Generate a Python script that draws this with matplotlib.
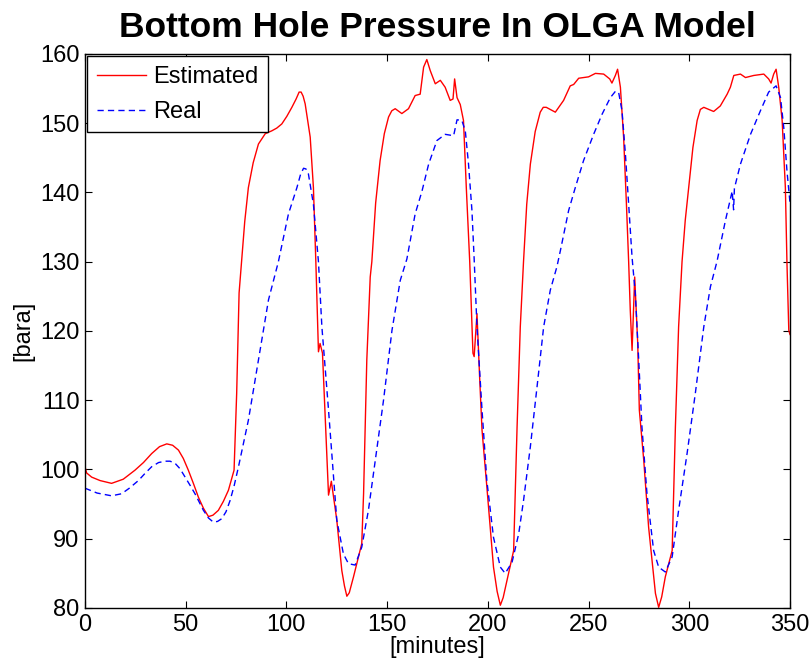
import matplotlib
matplotlib.use("Agg")
import matplotlib.pyplot as plt

# Estimated bottom hole pressure (red)
est_t = [0, 0.8, 3.3, 7.5, 13.2, 19, 24.8, 29, 33.1, 37, 40.6, 43.5, 46.4, 48.8, 51.3, 53.8, 56.3,
         58.8, 61.3, 63.5, 66.2, 68.7, 71.2, 74.0, 75.3, 76.5, 77.8, 79.3, 81.1, 83.5, 86.1, 89.5,
         92.7, 95.2, 97.7, 100.2, 102.7, 104.8, 106.3, 107.3, 108.3, 109.3, 111.8, 113.4, 114.6,
         115.9, 116.7, 117.9, 120.9, 122.3, 125.0, 127.5, 128.8, 130.0, 131.2, 133.3, 137.4, 138.3,
         139.9, 141.6, 142.4, 144.3, 146.5, 148.6, 150.7, 152.3, 154.0, 157.3, 160.6, 163.9,
         166.4, 168.1, 169.7, 171.4, 173.9, 176.4, 178.8, 181.3, 182.7, 183.5, 184.7, 186.3,
         187.9, 189.3, 191.0, 192.6, 193.2, 194.6, 195.9, 197.1, 199.5, 202.8, 204.6, 206.2,
         207.6, 209.5, 212.8, 214.5, 216.1, 217.7, 219.3, 221.1, 223.5, 226.0, 227.5, 229.0,
         233.5, 237.6, 240.9, 242.6, 245.1, 250.0, 253.4, 257.5, 260.5, 261.6, 263.3, 264.4,
         265.8, 267.4, 268.8, 269.9, 270.7, 271.6, 272.9, 274.4, 275.2, 277.4, 279.8, 283.2,
         284.8, 286.3, 288.1, 291.5, 293.1, 294.7, 296.4, 298.0, 299.7, 301.8, 303.9, 305.5,
         307.2, 312.1, 315.4, 318.8, 320.4, 322.1, 325.4, 327.9, 332.0, 337.0, 339.4, 340.6,
         341.9, 343.1, 344.4, 346.1, 347.7, 348.5, 349.4, 350.0]
est_p = [100.4, 99.5, 98.9, 98.4, 98.0, 98.6, 99.9, 101.0, 102.3, 103.3, 103.7, 103.5, 102.8, 101.6,
         99.9, 98.0, 96.0, 94.4, 93.2, 93.4, 94.1, 95.4, 97.0, 99.9, 111.0, 125.5, 130.2, 135.8,
         140.7, 144.3, 147.0, 148.5, 148.9, 149.3, 149.9, 151.0, 152.3, 153.5, 154.5, 154.5, 153.9,
         152.8, 148.0, 140.7, 130.0, 117.0, 118.2, 116.8, 96.3, 98.3, 92.7, 85.4, 83.2, 81.7, 82.2,
         84.5, 89.3, 96.5, 115.8, 127.8, 130.0, 138.5, 144.6, 148.5, 150.9, 151.8, 152.1, 151.4,
         152.1, 154.0, 154.2, 158.1, 159.2, 157.6, 155.7, 156.2, 155.2, 153.3, 153.5, 156.4,
         153.7, 152.7, 150.4, 140.7, 130.0, 116.8, 116.3, 122.5, 113.4, 105.7, 97.5, 85.9,
         82.4, 80.4, 81.5, 84.0, 88.3, 106.1, 120.6, 130.0, 138.3, 144.1, 148.8, 151.6, 152.3,
         152.3, 151.6, 153.3, 155.4, 155.6, 156.5, 156.7, 157.2, 157.1, 156.4, 155.8, 156.9,
         157.8, 155.2, 148.0, 138.3, 130.0, 123.0, 117.2, 127.8, 118.2, 108.6, 101.3, 91.7,
         82.1, 80.1, 81.6, 84.5, 88.3, 106.1, 120.6, 130.0, 136.0, 140.7, 146.5, 150.4, 152.0,
         152.3, 151.7, 152.5, 154.2, 155.2, 156.9, 157.1, 156.6, 156.9, 157.1, 156.4, 155.8,
         157.1, 157.8, 155.2, 150.4, 140.7, 129.7, 120.1, 119.5]

# Real bottom hole pressure (blue, dashed)
real_t = [0, 6, 13.2, 18.2, 22, 26.5, 30, 33.1, 36.5, 39.7, 42.2, 44.7, 47.2, 49.7, 52.2, 54.6,
          58.8, 61.3, 63.7, 65.8, 67.9, 70, 72.0, 74, 76.2, 81.1, 86.1, 91.1, 96.0, 101.0, 105.2,
          107.0, 108.5, 109.7, 110.9, 113.4, 115.9, 117.6, 120.9, 123.4, 125.0, 128.3, 130.8,
          134.1, 137.4, 140.7, 144.1, 148.2, 152.4, 156.5, 159.8, 163.9, 167.3, 170.6, 174.7,
          178.8, 183.0, 184.7, 187.1, 188.8, 190.4, 192.1, 193.2, 194.6, 197.1, 199.5, 202.8,
          206.2, 208.6, 212.0, 215.3, 217.7, 221.1, 224.4, 227.7, 231.0, 234.3, 236.0, 240.1,
          243.4, 247.5, 252.5, 256.7, 260.8, 263.3, 264.9, 266.6, 268.3, 269.9, 271.6, 273.2,
          274.9, 276.5, 279.0, 282.3, 284.8, 288.1, 291.5, 294.7, 298.9, 303.0, 307.2, 310.5,
          313.8, 317.9, 321.3, 322.0, 322.4, 325.4, 330.4, 335.3, 339.4, 343.1, 345.3, 346.9,
          348.5, 350.0]
real_p = [97.3, 96.6, 96.2, 96.5, 97.3, 98.4, 99.5, 100.4, 101.0, 101.2, 101.2, 100.9, 100.1, 98.9,
          97.7, 96.5, 94.1, 93.0, 92.4, 92.5, 92.9, 93.9, 95.5, 97.6, 100.4, 107.1, 115.8, 124.5,
          130.0, 136.9, 140.7, 142.6, 143.5, 143.4, 142.7, 138.3, 130.0, 120.6, 108.6, 98.9,
          92.7, 87.8, 86.4, 86.2, 88.8, 94.1, 101.3, 110.0, 120.1, 127.3, 130.4, 136.9, 140.2,
          144.1, 147.5, 148.4, 148.2, 150.5, 150.4, 148.9, 144.1, 137.4, 130.4, 120.6, 108.6,
          98.4, 90.2, 85.9, 85.0, 86.6, 90.7, 95.5, 103.3, 111.9, 120.6, 125.9, 129.3, 131.6,
          137.4, 140.7, 144.6, 148.4, 151.3, 153.7, 154.6, 154.5, 151.8, 145.5, 138.3, 130.6,
          125.4, 115.8, 106.1, 96.5, 88.3, 85.9, 85.2, 87.4, 94.1, 102.3, 111.0, 120.6, 126.4,
          130.1, 135.9, 140.2, 137.5, 140.6, 144.1, 148.4, 151.8, 154.5, 155.4, 153.7, 149.4,
          143.1, 138.5]

x_ticks = [0, 50, 100, 150, 200, 250, 300, 350]
y_ticks = [80, 90, 100, 110, 120, 130, 140, 150, 160]

plt.rcParams['font.family'] = ['Liberation Sans', 'DejaVu Sans']

fig = plt.figure(figsize=(8.12, 6.68), dpi=100)
ax = fig.add_axes([85 / 812, 1 - 608 / 668, 705 / 812, 554 / 668])

ax.plot(est_t, est_p, color='#ff0000', linewidth=1.0, label='Estimated')
ax.plot(real_t, real_p, color='#0000ff', linewidth=1.0, linestyle=(0, (4.5, 3)), label='Real')

ax.set_xlim(0, 350)
ax.set_ylim(80, 160)
ax.set_xticks(x_ticks)
ax.set_yticks(y_ticks)
ax.tick_params(direction='in', top=True, right=True, labelsize=17, length=5, width=0.8, pad=4)
for s in ax.spines.values():
    s.set_linewidth(1.0)

ax.set_title('Bottom Hole Pressure In OLGA Model', fontsize=25.5, fontweight='bold', pad=12)
ax.set_xlabel('[minutes]', fontsize=17, labelpad=0)
ax.set_ylabel('[bara]', fontsize=17, labelpad=4)

leg = ax.legend(loc='upper left', fontsize=17, fancybox=False, framealpha=1,
                edgecolor='black', borderaxespad=0.1, handlelength=2.1, borderpad=0.4,
                labelspacing=0.55, handletextpad=0.3)
leg.get_frame().set_linewidth(1.0)

fig.savefig('out.png', dpi=100)
